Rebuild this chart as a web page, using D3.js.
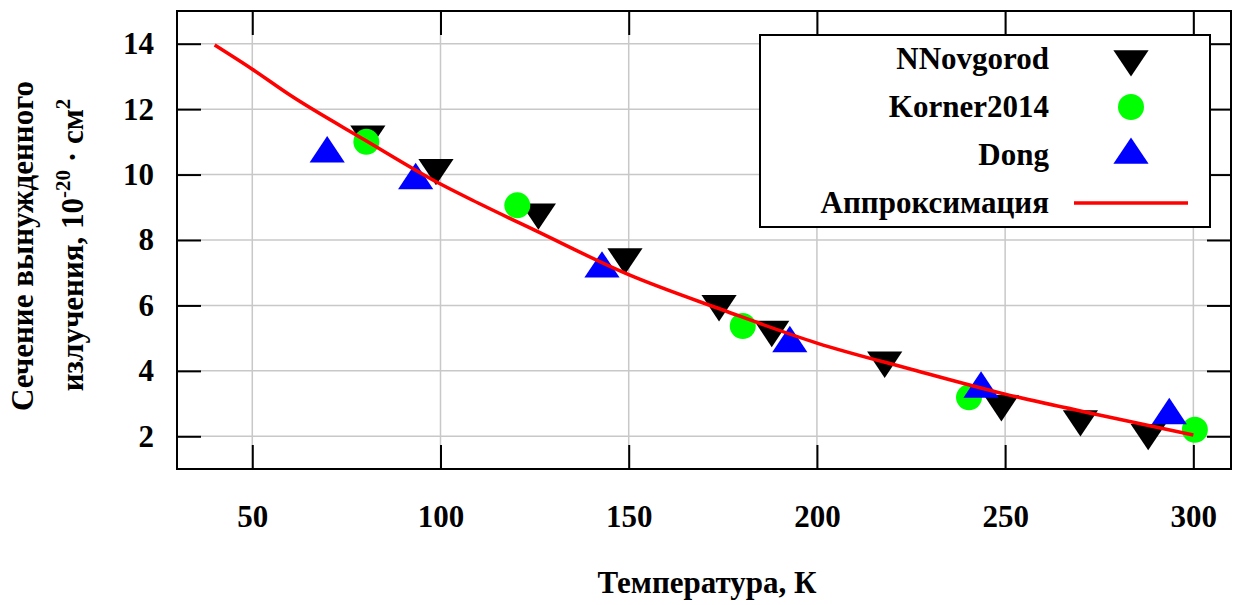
<!DOCTYPE html>
<html>
<head>
<meta charset="utf-8">
<script src="https://cdn.jsdelivr.net/npm/d3@7"></script>
<style>
    body { margin: 0; background: #fff; }
</style>
</head>
<body>
<div id="chart"></div>
<script>
// Values
const nnovTemp = [80.7, 98.8, 126, 149, 174, 188, 218, 249, 270, 288];
const nnovSigma = [11.23, 10.21, 8.85, 7.48, 6.05, 5.26, 4.32, 2.99, 2.53, 2.11];

const kornerTemp = [80.3, 120.4, 180.3, 240.4, 300.4];
const kornerSigma = [11.0, 9.06, 5.37, 3.19, 2.2];

const dongTemp = [69.9, 93.4, 142.9, 192.8, 243.6, 293.6];
const dongSigma = [10.64, 9.82, 7.12, 4.84, 3.45, 2.64];

// approximation curve
const fitTemp = [40, 50, 60, 80, 100, 110, 125, 150, 175, 200, 225, 250, 275, 300];
const fitSigma = [13.96, 13.22, 12.43, 11.05, 9.71, 9.13, 8.3, 6.94, 5.86, 4.85, 4.05, 3.29, 2.65, 2.04];

const xTicks = [50, 100, 150, 200, 250, 300];
const yTicks = [2, 4, 6, 8, 10, 12, 14];

const seriesNames = ["NNovgorod", "Korner2014", "Dong", "Аппроксимация"];

const FONT = "'Liberation Serif', 'Times New Roman', Times, Tinos, 'DejaVu Serif', 'Noto Serif', 'Nimbus Roman', 'FreeSerif', serif";

class CrossSectionChart {
    constructor(parentElement) {
        this.parentElement = parentElement;
        this.initVis();
    }

    initVis() {
        let vis = this;

        vis.totalWidth = 1235;
        vis.totalHeight = 605;
        vis.margin = { top: 11, right: 4, bottom: 136, left: 177 };
        vis.width = vis.totalWidth - vis.margin.left - vis.margin.right;
        vis.height = vis.totalHeight - vis.margin.top - vis.margin.bottom;

        vis.root = d3.select(vis.parentElement)
            .append("svg")
            .attr("width", vis.totalWidth)
            .attr("height", vis.totalHeight)
            .style("font-family", FONT)
            .style("font-weight", "bold");

        vis.svg = vis.root.append("g")
            .attr("transform", `translate(${vis.margin.left},${vis.margin.top})`);

        vis.x = d3.scaleLinear().domain([30, 310]).range([0, vis.width]);
        vis.y = d3.scaleLinear().domain([1, 15]).range([vis.height, 0]);

        // grid
        vis.svg.append("g").selectAll("line")
            .data(xTicks)
            .join("line")
            .attr("x1", d => vis.x(d)).attr("x2", d => vis.x(d))
            .attr("y1", 0).attr("y2", vis.height)
            .attr("stroke", "#c8c8c8").attr("stroke-width", 1.5);

        vis.svg.append("g").selectAll("line")
            .data(yTicks)
            .join("line")
            .attr("y1", d => vis.y(d)).attr("y2", d => vis.y(d))
            .attr("x1", 0).attr("x2", vis.width)
            .attr("stroke", "#c8c8c8").attr("stroke-width", 1.5);

        // axes: ticks point inward on all four sides
        const tick = 24;
        const styleAxis = g => {
            g.attr("font-family", null).attr("font-size", 31).attr("font-weight", "bold");
            g.select(".domain").remove();
            g.selectAll(".tick line").attr("stroke", "#000").attr("stroke-width", 2);
            g.selectAll(".tick text").attr("fill", "#000").style("font-family", FONT);
        };

        vis.svg.append("g")
            .attr("transform", `translate(0,${vis.height})`)
            .call(d3.axisBottom(vis.x).tickValues(xTicks).tickSize(-tick).tickPadding(36))
            .call(styleAxis);

        vis.svg.append("g")
            .call(d3.axisTop(vis.x).tickValues(xTicks).tickSize(-tick).tickFormat(""))
            .call(styleAxis);

        vis.svg.append("g")
            .call(d3.axisLeft(vis.y).tickValues(yTicks).tickSize(-tick).tickPadding(23))
            .call(styleAxis);

        vis.svg.append("g")
            .attr("transform", `translate(${vis.width},0)`)
            .call(d3.axisRight(vis.y).tickValues(yTicks).tickSize(-tick).tickFormat(""))
            .call(styleAxis);

        vis.svg.append("rect")
            .attr("width", vis.width)
            .attr("height", vis.height)
            .attr("fill", "none")
            .attr("stroke", "#000")
            .attr("stroke-width", 2);

        // axis titles
        vis.root.append("text")
            .attr("x", 707)
            .attr("y", 593)
            .attr("text-anchor", "middle")
            .attr("font-size", 31)
            .text("Температура, К");

        vis.root.append("text")
            .attr("transform", "translate(33,246) rotate(-90)")
            .attr("text-anchor", "middle")
            .attr("font-size", 31)
            .text("Сечение вынужденного");

        const yLabel2 = vis.root.append("text")
            .attr("transform", "translate(83,245) rotate(-90)")
            .attr("text-anchor", "middle")
            .attr("font-size", 31);
        yLabel2.append("tspan").text("излучения, 10");
        yLabel2.append("tspan").attr("dy", -13).attr("font-size", 21).text("-20");
        yLabel2.append("tspan").attr("dy", 13).text(" · см");
        yLabel2.append("tspan").attr("dy", -13).attr("font-size", 21).text("2");

        vis.updateVis();
    }

    triangle(cx, cy, up) {
        const v = 13.2;
        const s = up ? 1 : -1;
        return `M${cx},${cy - s * 4 / 3 * v}L${cx - 4 / 3 * v},${cy + s * 2 / 3 * v}L${cx + 4 / 3 * v},${cy + s * 2 / 3 * v}Z`;
    }

    updateVis() {
        let vis = this;

        const nnov = nnovTemp.map((t, i) => ({ t: t, s: nnovSigma[i] }));
        const korner = kornerTemp.map((t, i) => ({ t: t, s: kornerSigma[i] }));
        const dong = dongTemp.map((t, i) => ({ t: t, s: dongSigma[i] }));
        const fit = fitTemp.map((t, i) => ({ t: t, s: fitSigma[i] }));

        vis.svg.append("g").selectAll("path")
            .data(nnov)
            .join("path")
            .attr("d", d => vis.triangle(vis.x(d.t), vis.y(d.s), false))
            .attr("fill", "#000");

        vis.svg.append("g").selectAll("circle")
            .data(korner)
            .join("circle")
            .attr("cx", d => vis.x(d.t))
            .attr("cy", d => vis.y(d.s))
            .attr("r", 13)
            .attr("fill", "#00ff00");

        vis.svg.append("g").selectAll("path")
            .data(dong)
            .join("path")
            .attr("d", d => vis.triangle(vis.x(d.t), vis.y(d.s), true))
            .attr("fill", "#0000ff");

        const line = d3.line()
            .x(d => vis.x(d.t))
            .y(d => vis.y(d.s))
            .curve(d3.curveMonotoneX);

        vis.svg.append("path")
            .datum(fit)
            .attr("d", line)
            .attr("fill", "none")
            .attr("stroke", "#ff0000")
            .attr("stroke-width", 3.5);

        // legend
        const legend = vis.root.append("g");
        legend.append("rect")
            .attr("x", 760).attr("y", 35)
            .attr("width", 450).attr("height", 192)
            .attr("fill", "#fff")
            .attr("stroke", "#000")
            .attr("stroke-width", 2);

        const rowY = i => 69 + i * 48;
        legend.selectAll("text")
            .data(seriesNames)
            .join("text")
            .attr("x", 1049)
            .attr("y", (d, i) => rowY(i))
            .attr("text-anchor", "end")
            .attr("font-size", 31)
            .text(d => d);

        const symX = 1131;
        legend.append("path")
            .attr("d", vis.triangle(symX, rowY(0) - 10, false))
            .attr("fill", "#000");
        legend.append("circle")
            .attr("cx", symX).attr("cy", rowY(1) - 10).attr("r", 13)
            .attr("fill", "#00ff00");
        legend.append("path")
            .attr("d", vis.triangle(symX, rowY(2) - 10, true))
            .attr("fill", "#0000ff");
        legend.append("line")
            .attr("x1", 1074).attr("x2", 1188)
            .attr("y1", rowY(3) - 10).attr("y2", rowY(3) - 10)
            .attr("stroke", "#ff0000")
            .attr("stroke-width", 3.5);
    }
}

new CrossSectionChart("#chart");
</script>
</body>
</html>
